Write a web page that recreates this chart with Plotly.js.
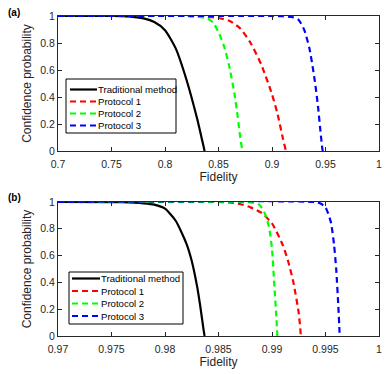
<!DOCTYPE html>
<html><head><meta charset="utf-8">
<script src="https://cdn.plot.ly/plotly-3.0.1.min.js"></script>
<style>html,body{margin:0;padding:0;background:#fff}#p{width:389px;height:374px}</style>
</head><body><div id="p"></div>
<script>
// Panel (a)
const aTradX = [0.70,0.75,0.76,0.77,0.78,0.79,0.80,0.81,0.82,0.83,0.835,0.837];
const aTradY = [1,1,0.998,0.994,0.982,0.955,0.895,0.76,0.53,0.24,0.07,0];
const aP1X = [0.70,0.82,0.83,0.84,0.85,0.86,0.87,0.88,0.89,0.90,0.905,0.91,0.913];
const aP1Y = [1,1,0.998,0.993,0.985,0.965,0.91,0.8,0.64,0.42,0.28,0.1,0];
const aP2X = [0.70,0.82,0.83,0.84,0.845,0.85,0.855,0.86,0.865,0.868,0.870,0.872,0.873];
const aP2Y = [1,1,0.995,0.98,0.95,0.88,0.78,0.63,0.42,0.25,0.12,0.02,0];
const aP3X = [0.70,0.90,0.91,0.92,0.925,0.93,0.935,0.94,0.943,0.945,0.947,0.9475];
const aP3Y = [1,1,0.998,0.99,0.97,0.9,0.76,0.52,0.33,0.17,0.02,0];
// Panel (b)
const bTradX = [0.97,0.976,0.978,0.979,0.98,0.981,0.982,0.9825,0.983,0.9833,0.9836,0.9837];
const bTradY = [1,0.998,0.99,0.98,0.95,0.86,0.69,0.56,0.37,0.22,0.05,0];
const bP1X = [0.97,0.985,0.986,0.987,0.988,0.989,0.99,0.991,0.9915,0.992,0.9925,0.9927];
const bP1Y = [1,1,0.997,0.985,0.96,0.92,0.84,0.68,0.56,0.4,0.17,0];
const bP2X = [0.97,0.987,0.988,0.9888,0.9893,0.9897,0.99,0.9902,0.9904,0.9905];
const bP2Y = [1,1,0.997,0.98,0.92,0.82,0.65,0.4,0.15,0];
const bP3X = [0.97,0.994,0.9945,0.995,0.9955,0.9958,0.996,0.9962,0.9963,0.99632];
const bP3Y = [1,1,0.99,0.96,0.85,0.68,0.5,0.22,0.05,0];

const names = ['Traditional method','Protocol 1','Protocol 2','Protocol 3'];
const colors = ['#000000','#ff0000','#00ff00','#0000ff'];
const aTicks = [0.7,0.75,0.8,0.85,0.9,0.95,1];
const aTickText = ['0.7','0.75','0.8','0.85','0.9','0.95','1'];
const bTicks = [0.97,0.975,0.98,0.985,0.99,0.995,1];
const bTickText = ['0.97','0.975','0.98','0.985','0.99','0.995','1'];
const yTicks = [0,0.2,0.4,0.6,0.8,1];
const yTickText = ['0','0.2','0.4','0.6','0.8','1'];

const W = 389, H = 374;
const px = x => x / W, py = y => 1 - y / H;
const DASH = '6px,4px';
const LW = 2.2;

const aData = [[aTradX,aTradY],[aP1X,aP1Y],[aP2X,aP2Y],[aP3X,aP3Y]];
const bData = [[bTradX,bTradY],[bP1X,bP1Y],[bP2X,bP2Y],[bP3X,bP3Y]];
const traces = [];
aData.forEach((d,i)=>traces.push({x:d[0],y:d[1],name:names[i],mode:'lines',type:'scatter',
  line:{color:colors[i],width:LW,dash:i===0?'solid':DASH,shape:'spline',smoothing:0.6},
  xaxis:'x',yaxis:'y',showlegend:false}));
bData.forEach((d,i)=>traces.push({x:d[0],y:d[1],name:names[i],mode:'lines',type:'scatter',
  line:{color:colors[i],width:LW,dash:i===0?'solid':DASH,shape:'spline',smoothing:0.6},
  xaxis:'x2',yaxis:'y2',showlegend:false}));

const FAM = 'Liberation Sans, Arial, sans-serif';
const font = {family:FAM,size:11,color:'#262626'};
function ax(extra){return Object.assign({showgrid:false,zeroline:false,showline:true,mirror:'ticks',
  linecolor:'#262626',linewidth:1,ticks:'inside',ticklen:4,tickcolor:'#262626',tickmode:'array',
  tickfont:{family:FAM,size:10.5,color:'#262626'}},extra);}

// custom legends (box + samples + labels), positioned in pixels
const shapes = [], annotations = [];
function legendBox(x0,y0,x1,y1,rows,sx0,sx1,tx){
  shapes.push({type:'rect',xref:'paper',yref:'paper',x0:px(x0),x1:px(x1),y0:py(y0),y1:py(y1),
    line:{color:'#000',width:1},fillcolor:'#fff',layer:'above'});
  rows.forEach((ry,i)=>{
    shapes.push({type:'line',xref:'paper',yref:'paper',x0:px(sx0),x1:px(sx1),y0:py(ry),y1:py(ry),
      line:{color:colors[i],width:LW,dash:i===0?'solid':DASH},layer:'above'});
    annotations.push({text:names[i],xref:'paper',yref:'paper',x:px(tx),y:py(ry),xanchor:'left',yanchor:'middle',
      showarrow:false,font:{family:FAM,size:9.6,color:'#000'},borderpad:0});
  });
}
legendBox(66,79,176,133,[89.5,101.5,113.5,125.5],70,97,96.5);
legendBox(69,272,183,324,[278.5,291,303.5,316],72,100,100);

annotations.push({text:'<b>(a)</b>',xref:'paper',yref:'paper',x:px(6),y:py(12.5),xanchor:'left',yanchor:'middle',showarrow:false,font:{family:FAM,size:10,color:'#000'}});
annotations.push({text:'<b>(b)</b>',xref:'paper',yref:'paper',x:px(6),y:py(197),xanchor:'left',yanchor:'middle',showarrow:false,font:{family:FAM,size:10,color:'#000'}});

const layout = {
  width:W,height:H,margin:{l:0,r:0,t:0,b:0},paper_bgcolor:'#fff',plot_bgcolor:'#fff',font:font,
  showlegend:false,
  xaxis:ax({domain:[px(58),px(379)],anchor:'y',range:[0.7,1],tickvals:aTicks,ticktext:aTickText,ticklabelstandoff:3,
    title:{text:'Fidelity',font:{size:12,color:'#262626'},standoff:4}}),
  yaxis:ax({domain:[py(151),py(16)],anchor:'x',range:[0,1],tickvals:yTicks,ticktext:yTickText,
    title:{text:'Confidence probability',font:{size:12,color:'#262626'},standoff:6}}),
  xaxis2:ax({domain:[px(58),px(379)],anchor:'y2',range:[0.97,1],tickvals:bTicks,ticktext:bTickText,ticklabelstandoff:3,
    title:{text:'Fidelity',font:{size:12,color:'#262626'},standoff:4}}),
  yaxis2:ax({domain:[py(336),py(202)],anchor:'x2',range:[0,1],tickvals:yTicks,ticktext:yTickText,
    title:{text:'Confidence probability',font:{size:12,color:'#262626'},standoff:6}}),
  shapes:shapes,
  annotations:annotations
};
Plotly.newPlot('p',traces,layout,{displayModeBar:false,staticPlot:true});
</script></body></html>
